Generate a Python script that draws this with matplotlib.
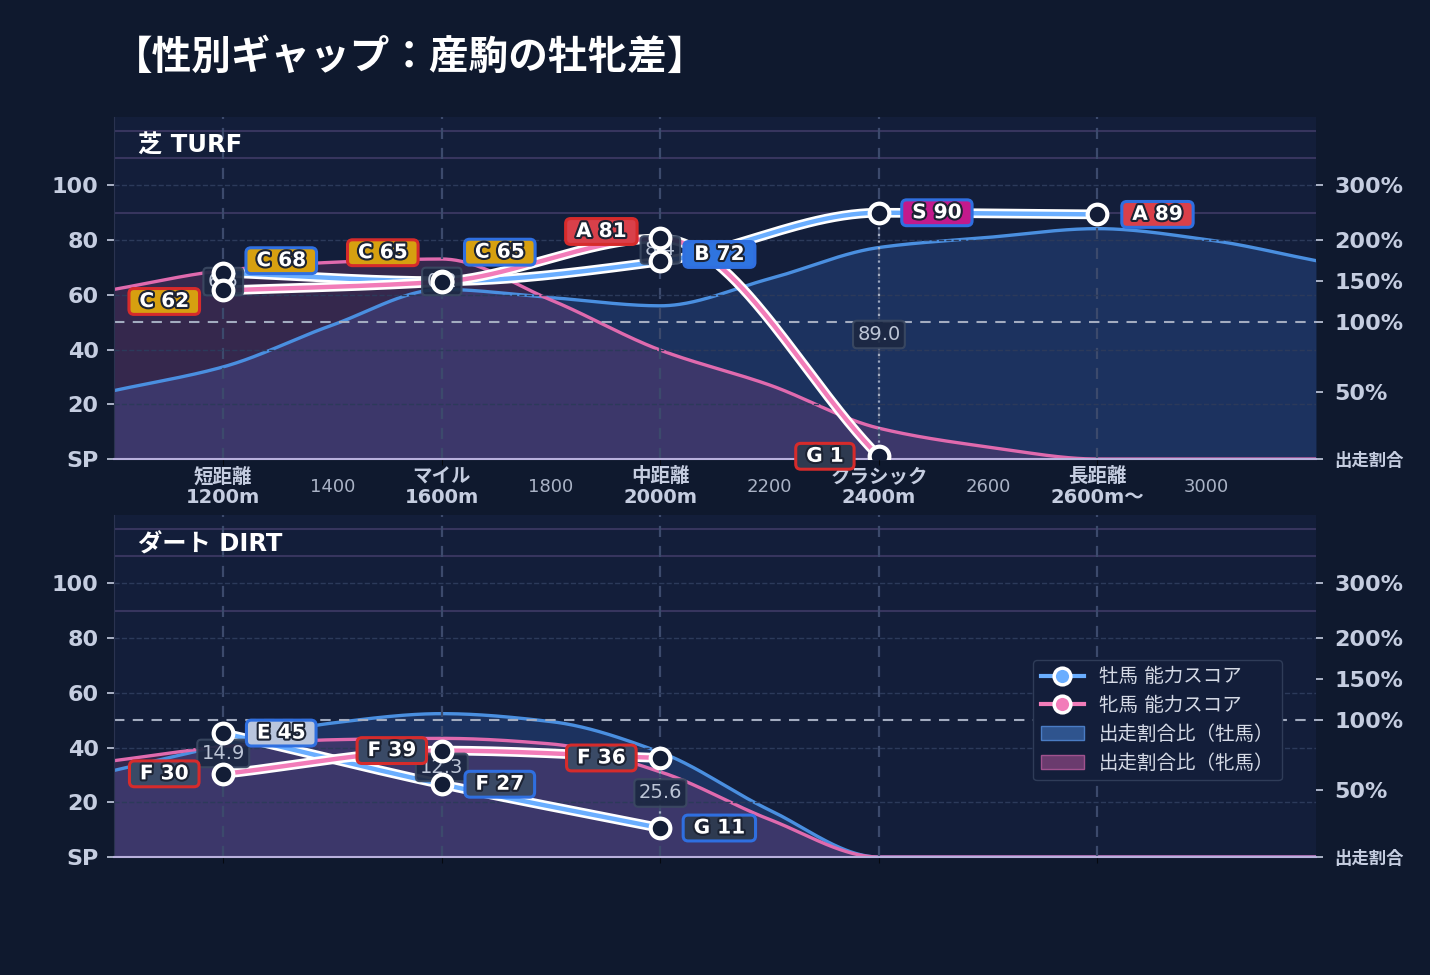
import numpy as np
import matplotlib.pyplot as plt
import matplotlib.patheffects as pe
from matplotlib.lines import Line2D
from matplotlib.patches import Patch

plt.rcParams['font.family'] = ['DejaVu Sans', 'Noto Sans CJK JP']

# ---- data ----
CAT_X = [1200, 1600, 2000, 2400, 2800]
CAT_LABELS = ['短距離\n1200m', 'マイル\n1600m', '中距離\n2000m', 'クラシック\n2400m', '長距離\n2600m〜']
MINOR_X = [1400, 1800, 2200, 2600, 3000]

TURF_MALE = [68.1, 65.0, 72.2, 90.0, 89.4]
TURF_FEMALE = [61.6, 64.8, 80.6, 1.0, np.nan]
TURF_MALE_RANK = ['C', 'C', 'B', 'S', 'A']
TURF_FEMALE_RANK = ['C', 'C', 'A', 'G', None]

DIRT_MALE = [45.3, 26.6, 10.6]
DIRT_FEMALE = [30.4, 38.9, 36.2]
DIRT_MALE_RANK = ['E', 'F', 'G']
DIRT_FEMALE_RANK = ['F', 'F', 'F']

# entry share ratio (%) sampled every 200m
SHARE_X = [1000, 1200, 1400, 1600, 1800, 2000, 2200, 2400, 2600, 2800, 3000, 3200]
TURF_MALE_SHARE = [51, 68, 98, 140, 130, 120, 153, 191, 205, 221, 201, 175]
TURF_FEMALE_SHARE = [140, 163, 173, 177, 127, 80, 55, 23, 9, 0, 0, 0]
DIRT_MALE_SHARE = [64, 82, 98, 108, 99, 77, 35, 0, 0, 0, 0, 0]
DIRT_FEMALE_SHARE = [71, 81, 86, 87, 83, 63, 28, 0, 0, 0, 0, 0]

SHARE_TICKS = [0, 50, 100, 150, 200, 300]
SHARE_TICK_LABELS = ['出走割合', '50%', '100%', '150%', '200%', '300%']
SCORE_TICKS = [0, 20, 40, 60, 80, 100]
SCORE_TICK_LABELS = ['SP', '20', '40', '60', '80', '100']

# ---- style ----
FIG_BG = '#0f192e'
AX_BG = '#131e3a'
MALE_C = '#6aaeff'
FEMALE_C = '#f27cb9'
MALE_EDGE = '#2f6fe0'
FEMALE_EDGE = '#d62b2b'
RANK_FC = {'S': '#c21a8c', 'A': '#d9404a', 'B': '#2f74e0', 'C': '#d6a010',
           'E': '#b9c5dd', 'F': '#3a4a66', 'G': '#2e3a50'}

# right axis: share % -> score-axis units
_SP = [-1000, 0, 50, 100, 150, 200, 300, 425, 2000]
_SY = [-490, 0, 24.5, 50, 65, 80, 100, 125, 440]


def fwd(v):
    return np.interp(v, _SP, _SY)


def inv(y):
    return np.interp(y, _SY, _SP)


def smooth(x, y, xs):
    # monotone cubic (Fritsch-Carlson) for drawing only
    x = np.asarray(x, float)
    y = np.asarray(y, float)
    h = np.diff(x)
    d = np.diff(y) / h
    m = np.zeros_like(y)
    m[0], m[-1] = d[0], d[-1]
    for k in range(1, len(x) - 1):
        if d[k - 1] * d[k] > 0:
            w1 = 2 * h[k] + h[k - 1]
            w2 = h[k] + 2 * h[k - 1]
            m[k] = (w1 + w2) / (w1 / d[k - 1] + w2 / d[k])
    i = np.clip(np.searchsorted(x, xs) - 1, 0, len(x) - 2)
    t = (xs - x[i]) / h[i]
    return ((2 * t**3 - 3 * t**2 + 1) * y[i] + (t**3 - 2 * t**2 + t) * h[i] * m[i]
            + (-2 * t**3 + 3 * t**2) * y[i + 1] + (t**3 - t**2) * h[i] * m[i + 1])


def share_curve(share, xs):
    # smooth in screen space, then back to share %
    return inv(np.maximum(smooth(SHARE_X, fwd(np.asarray(share, float)), xs), 0))


def draw_panel(ax, title, male, female, mrank, frank, mshare, fshare, xlabels, nudge):
    n = len(male)
    cx = np.array(CAT_X[:n], float)
    male = np.array(male, float)
    female = np.array(female, float)

    tw = ax.twinx()
    tw.set_yscale('function', functions=(fwd, inv))
    tw.set_ylim(0, 425)
    tw.patch.set_visible(True)
    tw.set_facecolor(AX_BG)
    ax.set_zorder(tw.get_zorder() + 1)
    ax.patch.set_visible(False)

    xs = np.linspace(1000, 3200, 700)
    ms = share_curve(mshare, xs)
    fs = share_curve(fshare, xs)
    tw.fill_between(xs, 0, ms, color='#3569c0', alpha=0.28, lw=0, zorder=1)
    tw.fill_between(xs, 0, fs, color='#b04d95', alpha=0.22, lw=0, zorder=1.1)
    tw.plot(xs, ms, color='#4a8fe0', lw=2.4, zorder=2)
    tw.plot(xs, fs, color='#e06aae', lw=2.4, zorder=2.1)
    tw.axhline(100, color='#a3acc0', ls=(0, (5, 4)), lw=1.5, zorder=2.2)

    tw.set_yticks(SHARE_TICKS, labels=SHARE_TICK_LABELS, fontsize=16, fontweight='bold')
    tw.get_yticklabels()[0].set_fontsize(12.5)
    tw.set_yticks([200, 250, 300, 350, 400], minor=True)
    tw.grid(which='minor', axis='y', color='#37355e', lw=1.5)
    tw.tick_params(axis='y', which='major', colors='#c5cde0', length=5, width=1.2, pad=8)
    tw.tick_params(axis='y', which='minor', length=0)
    for s in tw.spines.values():
        s.set_visible(False)

    # score lines
    lw_fx = [pe.Stroke(linewidth=7, foreground='white'), pe.Normal()]
    for vals, col in [(male, MALE_C), (female, FEMALE_C)]:
        ok = ~np.isnan(vals)
        xl = np.linspace(cx[ok][0], cx[ok][-1], 300)
        ax.plot(xl, smooth(cx[ok], vals[ok], xl), color=col, lw=3.2, zorder=3,
                path_effects=lw_fx, solid_capstyle='round')

    both = ~np.isnan(female)
    ax.vlines(cx[both], female[both], male[both], color='#c8d0e0', ls=(0, (1, 2)),
              lw=1.6, alpha=0.75, zorder=2.5)
    for x, m, f in zip(cx[both], male[both], female[both]):
        ax.text(x, (m + f) / 2, f'{abs(m - f):.1f}', ha='center', va='center', fontsize=14,
                color='#bcc5d6', zorder=3.5,
                bbox=dict(boxstyle='round,pad=0.22,rounding_size=0.2', fc='#1c2842',
                          ec='#3b4962', lw=1.5, alpha=0.92))

    for vals in (male, female):
        ok = ~np.isnan(vals)
        ax.scatter(cx[ok], vals[ok], s=200, facecolor='#131d36', edgecolor='white',
                   linewidth=3, zorder=5)

    txt_fx = [pe.withStroke(linewidth=3, foreground='#1c2333')]
    for i in range(n):
        for vals, ranks, edge, side, key in [(male, mrank, MALE_EDGE, 1, 'm'),
                                             (female, frank, FEMALE_EDGE, -1, 'f')]:
            if ranks[i] is None:
                continue
            dx, dy = nudge[key][i]
            ax.annotate(f' {ranks[i]} {vals[i]:.0f} ', xy=(cx[i], vals[i]),
                        xytext=(side * dx, dy), textcoords='offset pixels',
                        ha='center', va='center', fontsize=14.5, fontweight='bold',
                        color='white', path_effects=txt_fx, zorder=7,
                        bbox=dict(boxstyle='round,pad=0.17,rounding_size=0.25',
                                  fc=RANK_FC[ranks[i]], ec=edge, lw=2.2))

    ax.set_xlim(1000, 3200)
    ax.set_ylim(0, 125)
    ax.set_yticks(SCORE_TICKS, labels=SCORE_TICK_LABELS, fontsize=16, fontweight='bold')
    ax.tick_params(axis='y', colors='#c5cde0', length=5, width=1.2, pad=6)
    if xlabels:
        ax.set_xticks(CAT_X, labels=CAT_LABELS, fontsize=14, fontweight='bold',
                      linespacing=1.1)
        ax.set_xticks(MINOR_X, labels=[str(v) for v in MINOR_X], minor=True, fontsize=13)
    else:
        ax.set_xticks(CAT_X, labels=[])
        ax.set_xticks([], minor=True)
    ax.tick_params(axis='x', which='major', length=4, color='#05080f', pad=2,
                   labelcolor='#c5cde0')
    ax.tick_params(axis='x', which='minor', length=0, pad=14, labelcolor='#aab3c6')
    ax.grid(axis='y', color='#2c3a5a', ls='--', lw=1)
    ax.grid(axis='x', which='major', color='#3c4a6c', ls=(0, (5, 4)), lw=1.6)
    ax.set_axisbelow(True)
    ax.spines[['top', 'right']].set_visible(False)
    ax.spines['left'].set_color('#2a3350')
    ax.spines['bottom'].set_color('#b8b0dc')
    ax.spines['bottom'].set_linewidth(1.5)
    ax.text(0.02, 0.915, title, transform=ax.transAxes, fontsize=17.5, fontweight='bold',
            color='white', va='center', zorder=8)
    return tw


fig = plt.figure(figsize=(14.3, 9.75), dpi=100, facecolor=FIG_BG)
fig.text(0.079, 0.941, '【性別ギャップ：産駒の牡牝差】', fontsize=28.5, fontweight='bold',
         color='white', va='center')

ax1 = fig.add_axes([0.0797, 0.5292, 0.8406, 0.3508])
ax2 = fig.add_axes([0.0797, 0.1210, 0.8406, 0.3508])

turf_nudge = {'m': [(58, 12), (58, 29), (59, 7), (58, 0), (60, 0)],
              'f': [(59, -11), (59, 29), (59, 7), (54, 0), (0, 0)]}
dirt_nudge = {'m': [(58, 0), (58, 0), (59, 0)],
              'f': [(59, 0), (50, 0), (59, 0)]}

draw_panel(ax1, '芝 TURF', TURF_MALE, TURF_FEMALE, TURF_MALE_RANK, TURF_FEMALE_RANK,
           TURF_MALE_SHARE, TURF_FEMALE_SHARE, True, turf_nudge)
draw_panel(ax2, 'ダート DIRT', DIRT_MALE, DIRT_FEMALE, DIRT_MALE_RANK, DIRT_FEMALE_RANK,
           DIRT_MALE_SHARE, DIRT_FEMALE_SHARE, False, dirt_nudge)

handles = [
    Line2D([], [], color=MALE_C, lw=3, marker='o', markersize=12, markerfacecolor=MALE_C,
           markeredgecolor='white', markeredgewidth=2.5),
    Line2D([], [], color=FEMALE_C, lw=3, marker='o', markersize=12, markerfacecolor=FEMALE_C,
           markeredgecolor='white', markeredgewidth=2.5),
    Patch(facecolor='#2f548e', edgecolor='#4a7cc4'),
    Patch(facecolor='#6a3b6e', edgecolor='#a0528e'),
]
labels = ['牡馬 能力スコア', '牝馬 能力スコア', '出走割合比（牡馬）', '出走割合比（牝馬）']
leg = ax2.legend(handles, labels, loc='upper right', bbox_to_anchor=(0.972, 0.577),
                 borderaxespad=0, fontsize=14, labelcolor='#d5dae6', facecolor='#131e3a',
                 edgecolor='#2f3c58', framealpha=1, borderpad=0.4, handlelength=2.2,
                 labelspacing=0.5)
leg.set_zorder(10)

fig.savefig('out.png', dpi=100, facecolor=fig.get_facecolor())
